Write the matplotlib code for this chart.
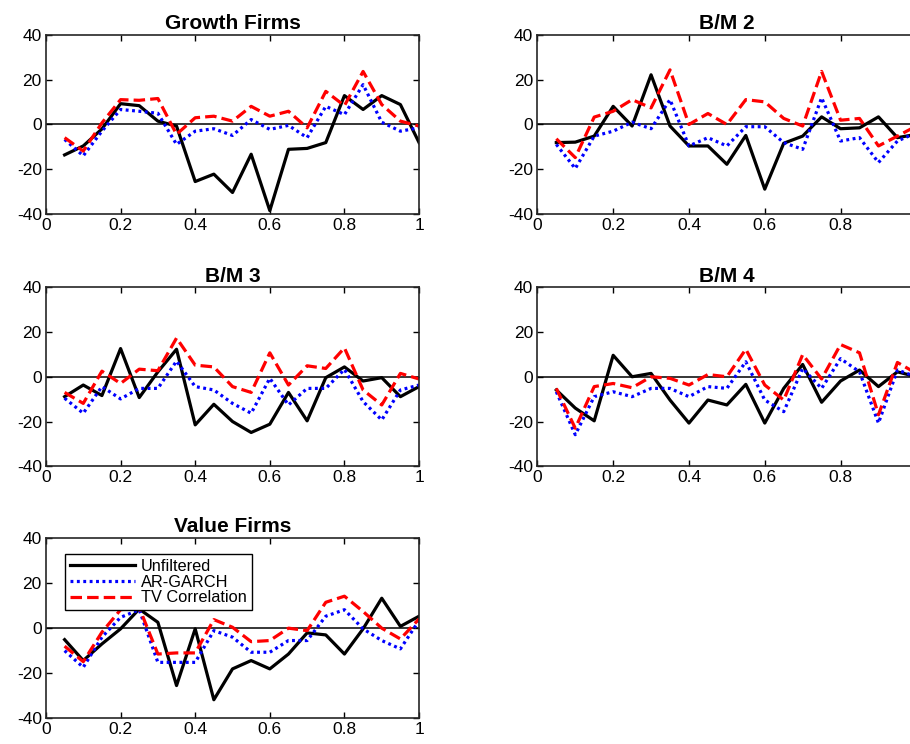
import numpy as np
import matplotlib.pyplot as plt

plt.rcParams['font.family'] = ['Liberation Sans', 'DejaVu Sans']
plt.rcParams['axes.unicode_minus'] = False

# quantile grid shared by all portfolios
quantiles = [0.05, 0.10, 0.15, 0.20, 0.25, 0.30, 0.35, 0.40, 0.45, 0.50,
             0.55, 0.60, 0.65, 0.70, 0.75, 0.80, 0.85, 0.90, 0.95, 1.00]

titles = ['Growth Firms', 'B/M 2', 'B/M 3', 'B/M 4', 'Value Firms']
labels = ['Unfiltered', 'AR-GARCH', 'TV Correlation']

# Growth Firms
growth_unf = [-13.6, -9.6, -2.0, 9.3, 8.4, 1.5, -0.7, -25.5, -22.2, -30.4,
              -13.3, -38.5, -11.1, -10.7, -8.1, 12.9, 6.7, 12.9, 8.9, -8.1]
growth_gar = [-6.7, -14.0, -3.0, 6.7, 5.9, 5.0, -8.9, -3.0, -1.9, -4.9,
              2.2, -2.2, -0.4, -5.9, 8.1, 4.4, 17.8, 1.0, -3.0, -1.5]
growth_tvc = [-5.9, -11.9, 0.7, 11.1, 10.8, 11.6, -4.4, 3.0, 3.7, 1.5,
              8.1, 3.7, 5.9, -1.5, 14.8, 8.4, 23.7, 8.9, 1.5, -0.7]

# B/M 2
bm2_unf = [-8.1, -7.9, -5.2, 8.1, -0.7, 22.2, -0.7, -9.6, -9.6, -17.8,
           -4.9, -28.9, -8.4, -5.2, 3.4, -1.9, -1.5, 3.4, -5.9, -4.4]
bm2_gar = [-8.9, -19.7, -5.2, -3.0, 1.0, -1.9, 11.1, -9.6, -5.9, -9.6,
           -1.0, -1.0, -8.1, -11.1, 11.9, -7.4, -5.9, -17.0, -7.4, -3.7]
bm2_tvc = [-6.4, -14.8, 3.3, 5.9, 11.1, 7.4, 24.4, 0.0, 4.9, 0.0,
           11.1, 10.1, 2.7, -0.7, 23.7, 1.9, 2.7, -9.6, -5.2, -0.7]

# B/M 3
bm3_unf = [-8.9, -3.7, -8.4, 12.6, -9.3, 2.2, 12.3, -21.5, -12.3, -20.0,
           -24.9, -21.2, -7.0, -19.7, -0.4, 4.4, -1.9, -0.4, -8.9, -4.4]
bm3_gar = [-9.6, -16.3, -4.4, -9.9, -5.2, -5.2, 7.0, -4.4, -5.9, -11.9,
           -16.3, -0.7, -12.6, -5.2, -5.2, 3.3, -11.1, -19.3, -5.9, -3.7]
bm3_tvc = [-7.0, -11.9, 2.5, -3.0, 3.4, 2.7, 17.3, 5.2, 4.4, -4.4,
           -7.0, 10.7, -3.7, 4.9, 3.7, 12.9, -5.9, -12.6, 1.5, -1.0]

# B/M 4
bm4_unf = [-5.9, -14.0, -19.7, 9.6, 0.0, 1.5, -10.4, -20.7, -10.4, -12.6,
           -3.4, -20.7, -5.2, 5.5, -11.4, -1.9, 3.0, -4.4, 2.2, 0.0]
bm4_gar = [-6.7, -25.9, -8.9, -6.7, -8.9, -5.2, -5.2, -8.9, -4.4, -5.2,
           6.7, -10.4, -15.6, 3.7, -5.2, 8.1, 2.2, -20.7, 3.0, 0.0]
bm4_tvc = [-5.2, -23.0, -4.4, -3.0, -4.9, 0.0, -0.7, -3.7, 1.0, 0.0,
           12.3, -3.7, -10.4, 9.9, -1.0, 14.4, 10.7, -17.0, 6.4, 1.5]

# Value Firms
value_unf = [-5.2, -14.5, -7.1, -0.4, 8.4, 2.5, -25.6, -0.4, -31.9, -18.2,
             -14.5, -18.2, -11.6, -2.2, -3.1, -11.6, -0.4, 13.2, 0.7, 5.2]
value_gar = [-10.1, -17.5, -4.1, 4.7, 8.1, -15.3, -15.3, -15.3, -1.2, -4.1,
             -10.8, -10.8, -5.6, -5.6, 5.2, 8.1, -0.4, -5.6, -9.3, 3.3]
value_tvc = [-8.1, -15.0, -1.9, 8.1, 9.0, -11.6, -11.1, -11.1, 3.7, 0.3,
             -6.1, -5.6, -0.1, -1.2, 11.4, 14.1, 7.3, -0.1, -4.9, 4.0]

panels = [
    (growth_unf, growth_gar, growth_tvc),
    (bm2_unf, bm2_gar, bm2_tvc),
    (bm3_unf, bm3_gar, bm3_tvc),
    (bm4_unf, bm4_gar, bm4_tvc),
    (value_unf, value_gar, value_tvc),
]

# axes rectangles [left, bottom, width, height] in figure fractions;
# the right column runs slightly past the figure edge
rects = [
    [0.0505, 0.7124, 0.4100, 0.2406],
    [0.5905, 0.7124, 0.4165, 0.2406],
    [0.0505, 0.3733, 0.4100, 0.2406],
    [0.5905, 0.3733, 0.4165, 0.2406],
    [0.0505, 0.0350, 0.4100, 0.2420],
]

xtick_vals = [0, 0.2, 0.4, 0.6, 0.8, 1.0]
xtick_text = ['0', '0.2', '0.4', '0.6', '0.8', '1']

fig = plt.figure(figsize=(9.1, 7.44), dpi=100)

for i, (rect, title, series) in enumerate(zip(rects, titles, panels)):
    ax = fig.add_axes(rect)
    unf, gar, tvc = series
    ax.axhline(0, color='black', linewidth=1.1)
    ax.plot(quantiles, unf, color='black', linewidth=2.3, linestyle='-',
            label=labels[0])
    ax.plot(quantiles, gar, color='#0000ff', linewidth=2.3,
            linestyle=(0, (0.9, 1.1)), label=labels[1])
    ax.plot(quantiles, tvc, color='#ff0000', linewidth=2.3,
            linestyle=(0, (3.6, 1.6)), label=labels[2])
    ax.set_xlim(0, 1)
    ax.set_ylim(-40, 40)
    ax.set_xticks(xtick_vals)
    if i in (1, 3):
        # last label sits beyond the canvas for the right column
        ax.set_xticklabels(xtick_text[:-1] + [''])
    else:
        ax.set_xticklabels(xtick_text)
    ax.set_yticks([-40, -20, 0, 20, 40])
    ax.tick_params(direction='in', top=True, right=True, length=4,
                   width=1.0, labelsize=12.5, pad=3)
    for sp in ax.spines.values():
        sp.set_linewidth(1.2)
        sp.set_color('#262626')
    ax.set_title(title, fontsize=15, fontweight='bold', pad=4)

    if i == 4:
        leg = ax.legend(loc='upper left', bbox_to_anchor=(0.051, 0.911),
                        fontsize=11.8, handlelength=4.0, handletextpad=0.35,
                        labelspacing=0.05, borderpad=0.3, borderaxespad=0,
                        fancybox=False, framealpha=1)
        leg.get_frame().set_edgecolor('black')
        leg.get_frame().set_linewidth(1.0)

fig.savefig('out.png', dpi=100)
